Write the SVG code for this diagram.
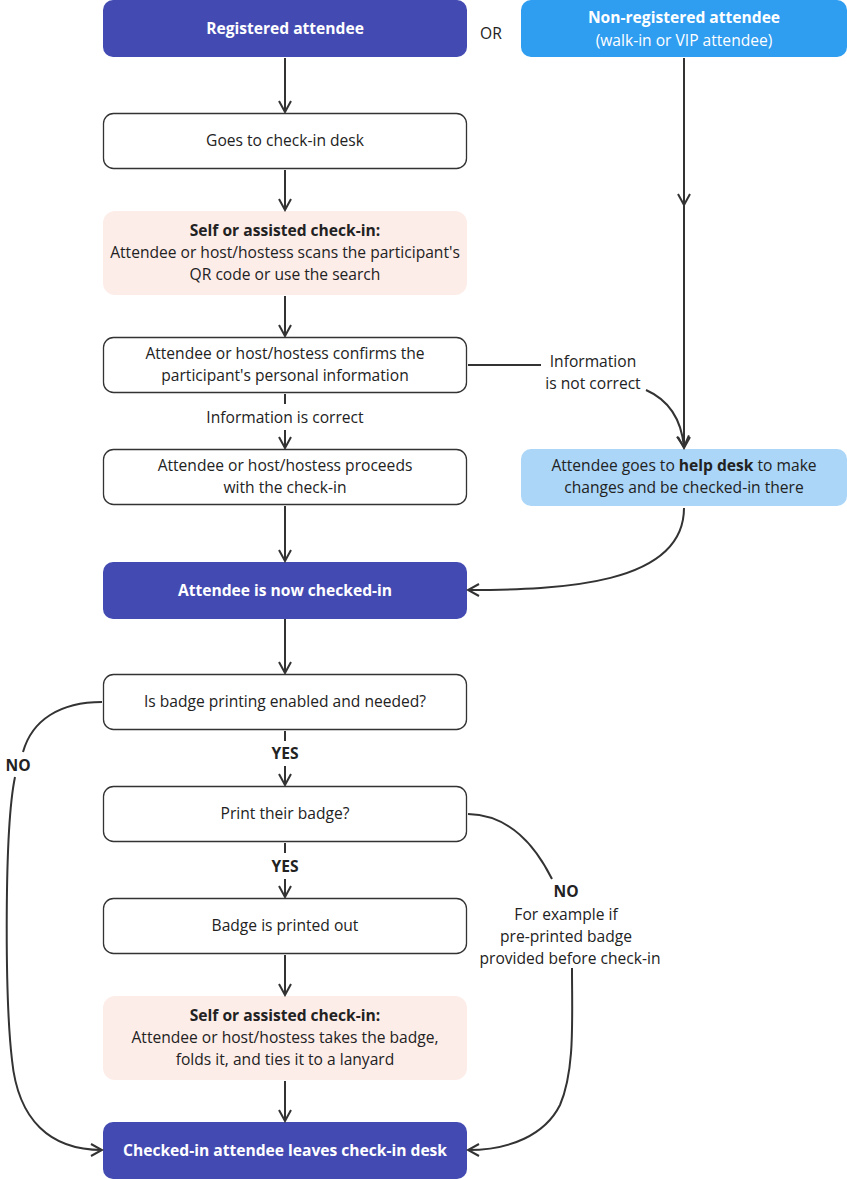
<svg xmlns="http://www.w3.org/2000/svg" width="847" height="1179" viewBox="0 0 847 1179">
<style>
text{font-family:"Open Sans","Noto Sans",sans-serif;font-size:15.6px;fill:#222;text-anchor:middle}
.b{font-weight:bold}
.w{fill:#fff;font-weight:bold}
.dark{fill:#434BB3}
.light{fill:#2F9DF0}
.pale{fill:#ABD6F8}
.pink{fill:#FDEDE9}
.box{fill:#fff;stroke:#333;stroke-width:1.3}
.c path{fill:none;stroke:#333;stroke-width:2}
</style>
<defs>
<marker id="ah" viewBox="0 0 14 14" refX="12" refY="7" markerWidth="14" markerHeight="14" markerUnits="userSpaceOnUse" orient="auto">
<path d="M1,1 L12,7 L1,13" fill="none" stroke="#333" stroke-width="2"/>
</marker>
</defs>
<g id="n1"><rect x="103" y="0" width="364" height="57" rx="10" class="dark"/><text x="285" y="34" class="w">Registered attendee</text></g>
<g id="or"><text x="491" y="39">OR</text></g>
<g id="n2"><rect x="521" y="0" width="326" height="57" rx="10" class="light"/><text x="684" y="23" class="w">Non-registered attendee</text><text x="684" y="46" style="fill:#fff">(walk-in or VIP attendee)</text></g>
<g id="n3"><rect x="103.5" y="113.5" width="363" height="55" rx="10" class="box"/><text x="285" y="146">Goes to check-in desk</text></g>
<g id="n4"><rect x="103" y="211" width="364" height="84" rx="12" class="pink"/><text x="285" y="236" class="b">Self or assisted check-in:</text><text x="285" y="258">Attendee or host/hostess scans the participant's</text><text x="285" y="280">QR code or use the search</text></g>
<g id="n5"><rect x="103.5" y="337.5" width="363" height="55" rx="10" class="box"/><text x="285" y="359">Attendee or host/hostess confirms the</text><text x="285" y="381">participant's personal information</text></g>
<g id="n6"><rect x="103.5" y="449.5" width="363" height="55" rx="10" class="box"/><text x="285" y="471">Attendee or host/hostess proceeds</text><text x="285" y="493">with the check-in</text></g>
<g id="n7"><rect x="521" y="449" width="326" height="57" rx="10" class="pale"/><text x="684" y="471">Attendee goes to <tspan class="b">help desk</tspan> to make</text><text x="684" y="493">changes and be checked-in there</text></g>
<g id="n8"><rect x="103" y="562" width="364" height="57" rx="10" class="dark"/><text x="285" y="596" class="w">Attendee is now checked-in</text></g>
<g id="n9"><rect x="103.5" y="674.5" width="363" height="55" rx="10" class="box"/><text x="285" y="707">Is badge printing enabled and needed?</text></g>
<g id="n10"><rect x="103.5" y="786.5" width="363" height="55" rx="10" class="box"/><text x="285" y="819">Print their badge?</text></g>
<g id="n11"><rect x="103.5" y="898.5" width="363" height="55" rx="10" class="box"/><text x="285" y="931">Badge is printed out</text></g>
<g id="n12"><rect x="103" y="996" width="364" height="84" rx="12" class="pink"/><text x="285" y="1021" class="b">Self or assisted check-in:</text><text x="285" y="1043">Attendee or host/hostess takes the badge,</text><text x="285" y="1065">folds it, and ties it to a lanyard</text></g>
<g id="n13"><rect x="103" y="1122" width="364" height="57" rx="10" class="dark"/><text x="285" y="1156" class="w">Checked-in attendee leaves check-in desk</text></g>
<g class="c" id="connectors">
<path d="M285,58 V112" marker-end="url(#ah)"/>
<path d="M285,170 V210" marker-end="url(#ah)"/>
<path d="M285,296 V336" marker-end="url(#ah)"/>
<path d="M285,394 V404"/>
<path d="M285,430 V448" marker-end="url(#ah)"/>
<path d="M285,506 V561" marker-end="url(#ah)"/>
<path d="M285,619 V673" marker-end="url(#ah)"/>
<path d="M285,731 V741"/>
<path d="M285,766 V785" marker-end="url(#ah)"/>
<path d="M285,843 V853"/>
<path d="M285,879 V897" marker-end="url(#ah)"/>
<path d="M285,955 V995" marker-end="url(#ah)"/>
<path d="M285,1081 V1121" marker-end="url(#ah)"/>
<path d="M684,58 V205" marker-end="url(#ah)"/>
<path d="M684,200 V448" marker-end="url(#ah)"/>
<path d="M468,365 H541"/>
<path d="M646,390 Q680,405 684,447" marker-end="url(#ah)"/>
<path d="M684,508 C684,585 560,590 468,590" marker-end="url(#ah)"/>
<path d="M102,702 C60,702 32,720 23,752"/>
<path d="M15,777 C4,830 5,1000 12,1060 C18,1120 50,1150 102,1150" marker-end="url(#ah)"/>
<path d="M468,814 C510,815 535,845 552,879"/>
<path d="M572,968 C572,1020 575,1070 560,1105 C545,1135 510,1150 468,1150" marker-end="url(#ah)"/>
</g>
<g id="labels">
<text x="285" y="423">Information is correct</text>
<text x="285" y="759" class="b">YES</text>
<text x="285" y="872" class="b">YES</text>
<text x="593" y="367">Information</text>
<text x="593" y="389">is not correct</text>
<text x="18" y="771" class="b">NO</text>
<text x="566" y="897" class="b">NO</text>
<text x="566" y="920">For example if</text>
<text x="566" y="942">pre-printed badge</text>
<text x="570" y="964">provided before check-in</text>
</g>
</svg>
